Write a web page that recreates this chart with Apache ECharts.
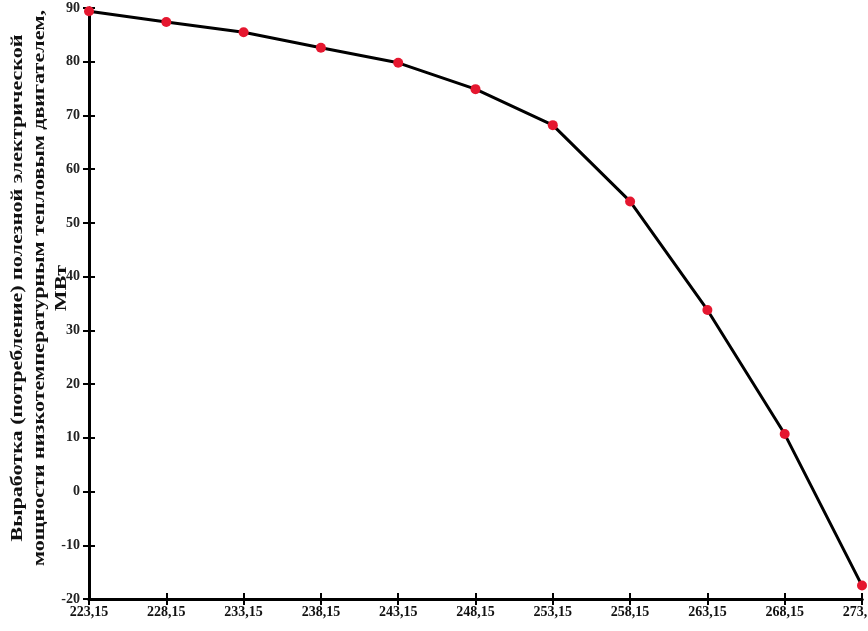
<!DOCTYPE html>
<html><head><meta charset="utf-8">
<script src="https://cdn.jsdelivr.net/npm/echarts@6/dist/echarts.min.js"></script>
<style>html,body{margin:0;padding:0;background:#fff}#c{width:868px;height:631px}</style>
</head><body><div id="c"></div>
<script>
const categories = ['223,15','228,15','233,15','238,15','243,15','248,15','253,15','258,15','263,15','268,15','273,15'];
const values = [89.4, 87.4, 85.5, 82.6, 79.8, 74.9, 68.2, 54.0, 33.8, 10.7, -17.5];
const yTitle = 'Выработка (потребление) полезной электрической\nмощности низкотемпературным тепловым двигателем,\nМВт';

const font = 'Liberation Serif, Times New Roman, serif';
const chart = echarts.init(document.getElementById('c'));
const axisLine = {show: true, onZero: false, lineStyle: {color: '#000', width: 3}};
const tickStyle = {color: '#000', width: 2};
chart.setOption({
  animation: false,
  grid: {left: 89, right: 6, top: 8, bottom: 32, containLabel: false, outerBoundsMode: 'none'},
  xAxis: [{
    type: 'category', data: categories, boundaryGap: false, position: 'bottom',
    axisLine: axisLine,
    axisTick: {show: true, length: 6, inside: false, lineStyle: tickStyle},
    axisLabel: {color: '#111', fontFamily: font, fontWeight: 'bold', fontSize: 14, margin: 6, interval: 0, hideOverlap: false},
    splitLine: {show: false}
  }, {
    type: 'category', data: categories, boundaryGap: false, position: 'bottom',
    axisLine: axisLine,
    axisTick: {show: true, length: 6, inside: true, lineStyle: tickStyle},
    axisLabel: {show: false}, splitLine: {show: false}
  }],
  yAxis: [{
    type: 'value', min: -20, max: 90, interval: 10,
    axisLine: axisLine,
    axisTick: {show: true, length: 6, inside: false, lineStyle: tickStyle},
    axisLabel: {color: '#222', fontFamily: font, fontWeight: 'bold', fontSize: 14, margin: 9, hideOverlap: false},
    splitLine: {show: false}
  }, {
    type: 'value', min: -20, max: 90, interval: 10, position: 'left',
    axisLine: axisLine,
    axisTick: {show: true, length: 6, inside: true, lineStyle: tickStyle},
    axisLabel: {show: false}, splitLine: {show: false}
  }],
  graphic: [{
    type: 'text', x: 40, y: 288, rotation: Math.PI / 2, scaleX: 1.3,
    style: {text: yTitle, fill: '#111', font: 'bold 17px ' + font, lineHeight: 22,
      align: 'center', verticalAlign: 'middle'}
  }],
  series: [{
    type: 'line', data: values, xAxisIndex: 0, yAxisIndex: 0,
    symbol: 'circle', symbolSize: 10,
    lineStyle: {color: '#000', width: 3},
    itemStyle: {color: '#e5172f'},
    z: 5
  }]
});
</script></body></html>
